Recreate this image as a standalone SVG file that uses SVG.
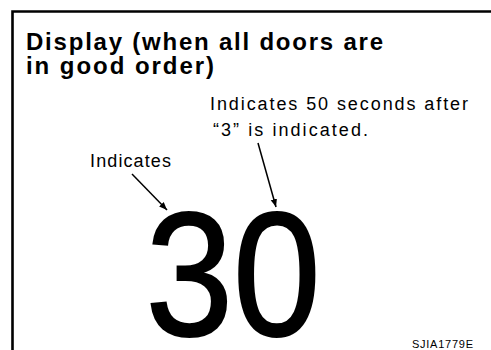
<svg xmlns="http://www.w3.org/2000/svg" width="491" height="350" viewBox="0 0 491 350">
<defs>
<style>
.t{font-family:"Liberation Sans",Arial,sans-serif;fill:#000}
.title{font-size:24px;font-weight:bold}
.lbl{font-size:18px}
.ln{stroke:#000;stroke-width:1.5;fill:none}
</style>
<marker id="ah" viewBox="0 0 10 10" refX="10" refY="5" markerWidth="8" markerHeight="8" orient="auto" markerUnits="userSpaceOnUse">
<path d="M0,1 L10,5 L0,9 Z" fill="#000"/>
</marker>
</defs>
<rect width="491" height="350" fill="#fff"/>
<path d="M12.5,350 V11.5 H491" fill="none" stroke="#000" stroke-width="2.6"/>
<g id="title">
<text class="t title" x="26" y="50" textLength="357">Display (when all doors are</text>
<text class="t title" x="26" y="74" textLength="188">in good order)</text>
</g>
<g id="label-50">
<text class="t lbl" x="210" y="110" textLength="258">Indicates 50 seconds after</text>
<text class="t lbl" x="213" y="136" textLength="155">“3” is indicated.</text>
</g>
<g id="label-indicates">
<text class="t lbl" x="90" y="167" textLength="81">Indicates</text>
</g>
<g id="display">
<text class="t" transform="translate(233,335) scale(0.89,1)" x="0" y="0" font-size="177" text-anchor="middle" stroke="#000" stroke-width="2">30</text>
</g>
<g id="connectors">
<line class="ln" x1="132" y1="174" x2="167" y2="210" marker-end="url(#ah)"/>
<line class="ln" x1="258" y1="143" x2="276" y2="207" marker-end="url(#ah)"/>
</g>
<text class="t" x="412" y="348" font-size="11" textLength="61">SJIA1779E</text>
</svg>
